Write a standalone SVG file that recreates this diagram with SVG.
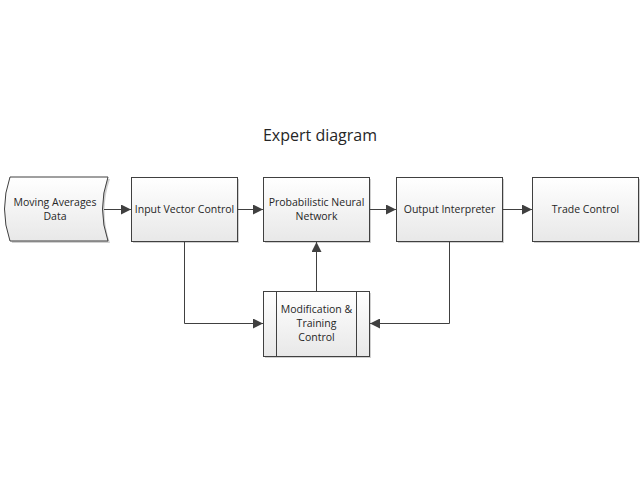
<svg xmlns="http://www.w3.org/2000/svg" width="640" height="480" viewBox="0 0 640 480">
<defs>
<linearGradient id="g" x1="0" y1="0" x2="0" y2="1">
<stop offset="0" stop-color="#ffffff"/>
<stop offset="1" stop-color="#e8e8e8"/>
</linearGradient>
<marker id="a" viewBox="0 0 10 10" refX="10" refY="5" markerWidth="10" markerHeight="10" markerUnits="userSpaceOnUse" orient="auto">
<path d="M0,0 L10,5 L0,10 z" fill="#404040"/>
</marker>
</defs>
<style>
.b{fill:url(#g);stroke:#404040;stroke-width:1}
.s{fill:#d0d0d0;stroke:none}
.t{font-family:"Open Sans","Liberation Sans",sans-serif;font-size:10.5px;fill:#262626;text-anchor:middle}
.c{fill:none;stroke:#404040;stroke-width:1;marker-end:url(#a)}
</style>
<rect width="640" height="480" fill="#ffffff"/>
<text x="320" y="141" font-family="Open Sans, Liberation Sans, sans-serif" font-size="16" fill="#262626" text-anchor="middle">Expert diagram</text>
<g id="n1">
<path class="s" d="M12,179 L110,179 Q99,211 110,243 L12,243 Q1,211 12,179 z"/>
<path class="b" d="M10,177 L108,177 Q97,209 108,241 L10,241 Q-1,209 10,177 z"/>
<text class="t" x="55" y="206">Moving Averages</text>
<text class="t" x="55" y="220">Data</text>
</g>
<g id="n2">
<rect class="s" x="133" y="179" width="106" height="64"/>
<rect class="b" x="131.5" y="177.5" width="106" height="64"/>
<text class="t" x="184.5" y="213">Input Vector Control</text>
</g>
<g id="n3">
<rect class="s" x="265" y="179" width="106" height="64"/>
<rect class="b" x="263.5" y="177.5" width="106" height="64"/>
<text class="t" x="316.5" y="206">Probabilistic Neural</text>
<text class="t" x="316.5" y="220">Network</text>
</g>
<g id="n4">
<rect class="s" x="398" y="179" width="106" height="64"/>
<rect class="b" x="396.5" y="177.5" width="106" height="64"/>
<text class="t" x="449.5" y="213">Output Interpreter</text>
</g>
<g id="n5">
<rect class="s" x="534" y="179" width="106" height="64"/>
<rect class="b" x="532.5" y="177.5" width="106" height="64"/>
<text class="t" x="585.5" y="213">Trade Control</text>
</g>
<g id="n6">
<rect class="s" x="265" y="293" width="106" height="65"/>
<rect class="b" x="263.5" y="291.5" width="106" height="65"/>
<line x1="276.5" y1="291.5" x2="276.5" y2="356.5" stroke="#404040"/>
<line x1="356.5" y1="291.5" x2="356.5" y2="356.5" stroke="#404040"/>
<text class="t" x="316.5" y="313">Modification &amp;</text>
<text class="t" x="316.5" y="327">Training</text>
<text class="t" x="316.5" y="341">Control</text>
</g>
<g id="connectors">
<path class="c" d="M104,209.5 L131,209.5"/>
<path class="c" d="M237.5,209.5 L263,209.5"/>
<path class="c" d="M369.5,209.5 L396,209.5"/>
<path class="c" d="M502.5,209.5 L532,209.5"/>
<path class="c" d="M184.5,241.5 L184.5,323.5 L263,323.5"/>
<path class="c" d="M449.5,241.5 L449.5,323.5 L370,323.5"/>
<path class="c" d="M316.5,291.5 L316.5,242"/>
</g>
</svg>
